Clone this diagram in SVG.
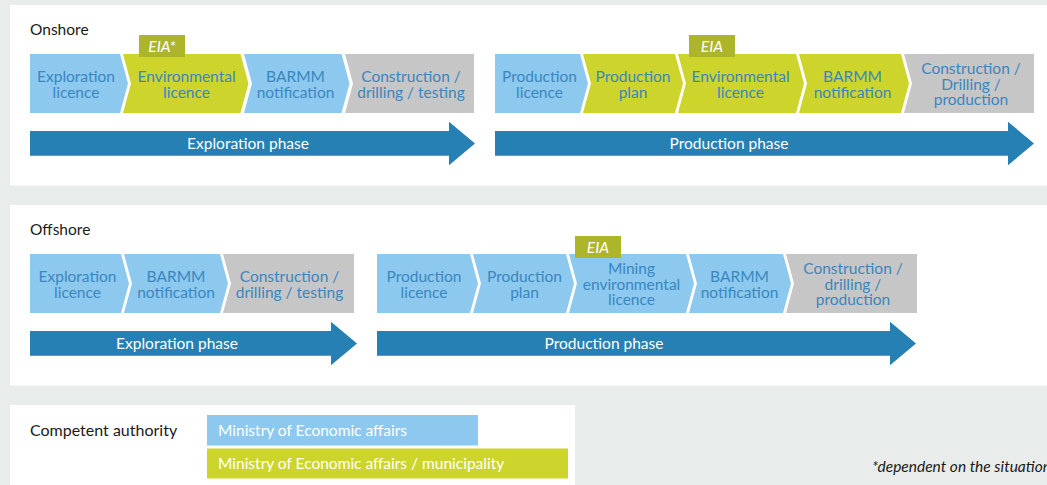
<svg xmlns="http://www.w3.org/2000/svg" width="1047" height="485" viewBox="0 0 1047 485">
<style>
.bg{fill:#e8eceb}
.panel{fill:#ffffff}
.b{fill:#8dc8ee}
.g{fill:#cdd52d}
.k{fill:#c6c6c6}
.eia{fill:#adb52a}
.ph{fill:#2680b3}
text{font-family:Lato,"Open Sans","Liberation Sans",sans-serif;font-size:15.5px}
.t{fill:#3a87bf;text-anchor:middle}
.w{fill:#ffffff}
.wc{fill:#ffffff;text-anchor:middle}
.it{font-style:italic}
.h{fill:#1a1a1a}
</style>
<rect class="bg" x="0" y="0" width="1047" height="485"/>
<rect class="panel" x="10" y="5" width="1037" height="180.5"/>
<rect class="panel" x="10" y="205" width="1037" height="180.5"/>
<rect class="panel" x="10" y="405" width="565" height="80"/>
<text class="h" x="30" y="35">Onshore</text>
<text class="h" x="30" y="235">Offshore</text>
<g id="connectors">
<g id="arrow-onshore-exploration"><path class="ph" d="M30,131 H449 V121.7 L475,143.5 L449,165.3 V155.7 H30 Z"/><text class="wc" x="248" y="148.5">Exploration phase</text></g>
<g id="arrow-onshore-production"><path class="ph" d="M495,131 H1008 V121.7 L1034,143.5 L1008,165.3 V155.7 H495 Z"/><text class="wc" x="729" y="148.5">Production phase</text></g>
<g id="arrow-offshore-exploration"><path class="ph" d="M30,331 H331 V321.7 L357,343.5 L331,365.3 V355.7 H30 Z"/><text class="wc" x="177" y="348.5">Exploration phase</text></g>
<g id="arrow-offshore-production"><path class="ph" d="M377,331 H890 V321.7 L916,343.5 L890,365.3 V355.7 H377 Z"/><text class="wc" x="604" y="348.5">Production phase</text></g>
</g>
<g id="on-expl-licence"><path class="b" d="M30,54 H120 L128,83.5 L120,113 H30 Z"/><text class="t" x="76" y="82">Exploration</text><text class="t" x="76" y="97.5">licence</text></g>
<g id="on-env-licence"><path class="g" d="M123,54 H240.5 L248.5,83.5 L240.5,113 H123 L131,83.5 Z"/><text class="t" x="186.5" y="82">Environmental</text><text class="t" x="186.5" y="97.5">licence</text></g>
<g id="on-barmm-1"><path class="b" d="M244,54 H341.5 L349.5,83.5 L341.5,113 H244 L252,83.5 Z"/><text class="t" x="295.5" y="82">BARMM</text><text class="t" x="295.5" y="97.5">notification</text></g>
<g id="on-construction-1"><path class="k" d="M345,54 H474 V113 H345 L353,83.5 Z"/><text class="t" x="411" y="82">Construction /</text><text class="t" x="411" y="97.5">drilling / testing</text></g>
<g id="on-eia-1"><rect class="eia" x="139" y="35" width="46" height="22"/><text class="wc it" x="162" y="52">EIA*</text></g>
<g id="on-prod-licence"><path class="b" d="M495,54 H580 L588,83.5 L580,113 H495 Z"/><text class="t" x="539.5" y="82">Production</text><text class="t" x="539.5" y="97.5">licence</text></g>
<g id="on-prod-plan"><path class="g" d="M583,54 H675 L683,83.5 L675,113 H583 L591,83.5 Z"/><text class="t" x="633" y="82">Production</text><text class="t" x="633" y="97.5">plan</text></g>
<g id="on-env-licence-2"><path class="g" d="M678,54 H796 L804,83.5 L796,113 H678 L686,83.5 Z"/><text class="t" x="740.5" y="82">Environmental</text><text class="t" x="740.5" y="97.5">licence</text></g>
<g id="on-barmm-2"><path class="g" d="M799,54 H901 L909,83.5 L901,113 H799 L807,83.5 Z"/><text class="t" x="852.5" y="82">BARMM</text><text class="t" x="852.5" y="97.5">notification</text></g>
<g id="on-construction-2"><path class="k" d="M904,54 H1034 V113 H904 L912,83.5 Z"/><text class="t" x="971" y="74">Construction /</text><text class="t" x="971" y="89.5">Drilling /</text><text class="t" x="971" y="105">production</text></g>
<g id="on-eia-2"><rect class="eia" x="689" y="35" width="46" height="22"/><text class="wc it" x="712" y="52">EIA</text></g>
<g id="off-expl-licence"><path class="b" d="M30,254 H121 L129,283.5 L121,313 H30 Z"/><text class="t" x="77.5" y="282">Exploration</text><text class="t" x="77.5" y="297.5">licence</text></g>
<g id="off-barmm-1"><path class="b" d="M124,254 H220 L228,283.5 L220,313 H124 L132,283.5 Z"/><text class="t" x="176" y="282">BARMM</text><text class="t" x="176" y="297.5">notification</text></g>
<g id="off-construction-1"><path class="k" d="M223,254 H354 V313 H223 L231,283.5 Z"/><text class="t" x="289.5" y="282">Construction /</text><text class="t" x="289.5" y="297.5">drilling / testing</text></g>
<g id="off-prod-licence"><path class="b" d="M377,254 H470 L478,283.5 L470,313 H377 Z"/><text class="t" x="424" y="282">Production</text><text class="t" x="424" y="297.5">licence</text></g>
<g id="off-prod-plan"><path class="b" d="M473,254 H566 L574,283.5 L566,313 H473 L481,283.5 Z"/><text class="t" x="524.5" y="282">Production</text><text class="t" x="524.5" y="297.5">plan</text></g>
<g id="off-mining-licence"><path class="b" d="M569,254 H686 L694,283.5 L686,313 H569 L577,283.5 Z"/><text class="t" x="631.5" y="274">Mining</text><text class="t" x="631.5" y="289.5">environmental</text><text class="t" x="631.5" y="305">licence</text></g>
<g id="off-barmm-2"><path class="b" d="M689,254 H783 L791,283.5 L783,313 H689 L697,283.5 Z"/><text class="t" x="739.5" y="282">BARMM</text><text class="t" x="739.5" y="297.5">notification</text></g>
<g id="off-construction-2"><path class="k" d="M786,254 H917 V313 H786 L794,283.5 Z"/><text class="t" x="853" y="274">Construction /</text><text class="t" x="853" y="289.5">drilling /</text><text class="t" x="853" y="305">production</text></g>
<g id="off-eia"><rect class="eia" x="575" y="236" width="46" height="22"/><text class="wc it" x="598" y="253">EIA</text></g>
<g id="legend">
<text class="h" x="30" y="436" style="font-size:16px">Competent authority</text>
<rect class="b" x="207" y="415" width="271" height="30.5"/>
<text class="w" x="218" y="435.5">Ministry of Economic affairs</text>
<rect class="g" x="207" y="448.5" width="361" height="30"/>
<text class="w" x="218" y="469">Ministry of Economic affairs / municipality</text>
</g>
<text class="h it" x="872" y="472">*dependent on the situation</text>
</svg>
